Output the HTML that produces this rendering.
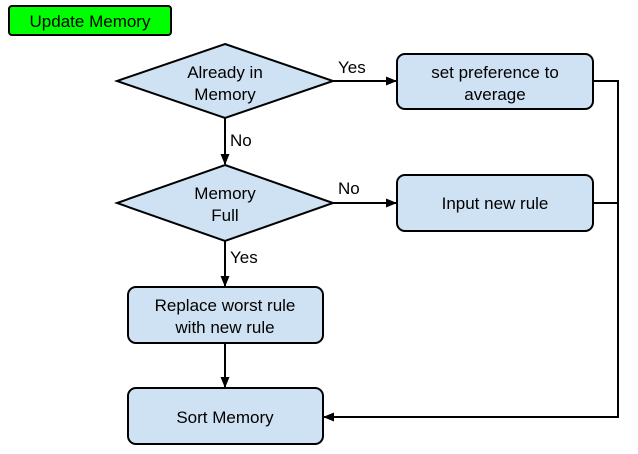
<!DOCTYPE html>
<html><head><style>body{margin:0;background:#fff;}svg{display:block}</style></head><body>
<svg width="638" height="454" xmlns="http://www.w3.org/2000/svg" font-family="Liberation Sans, sans-serif" font-size="17" fill="#000">
<defs><marker id="a" markerWidth="11" markerHeight="9" refX="10" refY="4.5" orient="auto" markerUnits="userSpaceOnUse"><path d="M0,0 L11,4.5 L0,9 z" fill="#000"/></marker></defs>
<rect x="9" y="6" width="162" height="29" rx="3" fill="#00ff00" stroke="#000" stroke-width="2"/>
<text x="90" y="27" text-anchor="middle">Update Memory</text>
<g fill="#cfe2f3" stroke="#000" stroke-width="2">
<polygon points="225,44 333,81 225,118 117,81"/>
<polygon points="225,165 333,203 225,241 117,203"/>
<rect x="397" y="54" width="196" height="55" rx="8"/>
<rect x="397" y="175" width="196" height="56" rx="8"/>
<rect x="128" y="287" width="195" height="56" rx="8"/>
<rect x="128" y="388" width="195" height="56" rx="8"/>
</g>
<g stroke="#000" stroke-width="2" fill="none">
<line x1="333" y1="81" x2="396" y2="81" marker-end="url(#a)"/>
<line x1="333" y1="203" x2="396" y2="203" marker-end="url(#a)"/>
<line x1="225" y1="118" x2="225" y2="164" marker-end="url(#a)"/>
<line x1="225" y1="241" x2="225" y2="286" marker-end="url(#a)"/>
<line x1="225" y1="343" x2="225" y2="387" marker-end="url(#a)"/>
<polyline points="593,81 618,81 618,417 324,417" marker-end="url(#a)"/>
<line x1="593" y1="203" x2="618" y2="203"/>
</g>
<g text-anchor="middle">
<text x="225" y="78">Already in</text><text x="225" y="100">Memory</text>
<text x="225" y="199">Memory</text><text x="225" y="221">Full</text>
<text x="495" y="78">set preference to</text><text x="495" y="100">average</text>
<text x="495" y="209">Input new rule</text>
<text x="225" y="311">Replace worst rule</text><text x="225" y="333">with new rule</text>
<text x="225" y="423">Sort Memory</text>
</g>
<text x="338" y="73">Yes</text>
<text x="338" y="194">No</text>
<text x="230" y="146">No</text>
<text x="230" y="263">Yes</text>
</svg>
</body></html>
